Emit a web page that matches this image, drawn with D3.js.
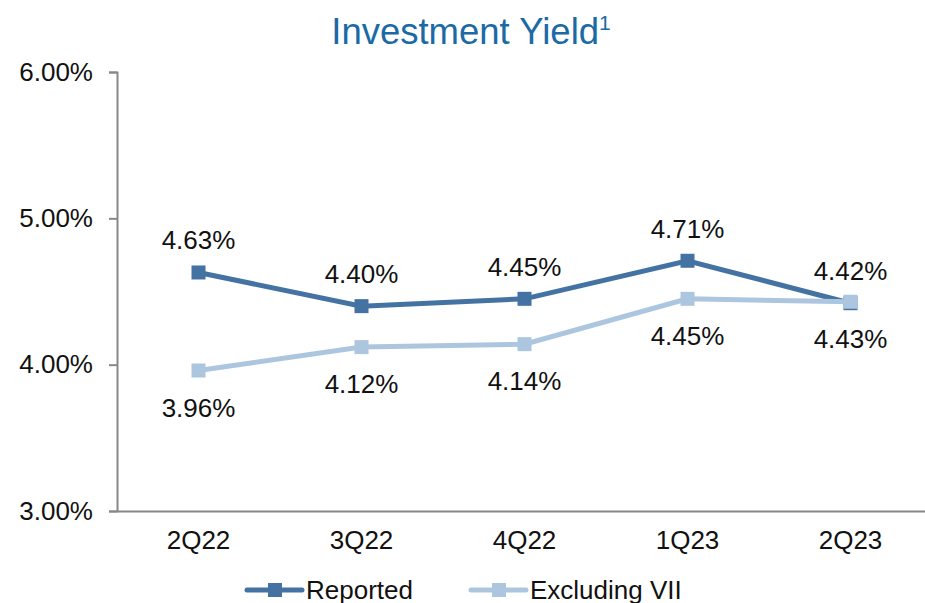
<!DOCTYPE html>
<html><head><meta charset="utf-8">
<script src="https://cdn.jsdelivr.net/npm/d3@7"></script>
<style>body{margin:0;background:#fff}svg{display:block;font-family:Arial,"Liberation Sans",sans-serif}</style>
</head><body>
<svg id="c" width="925" height="603"></svg>
<script>
const categories = ["2Q22","3Q22","4Q22","1Q23","2Q23"];
const reported = [4.63, 4.40, 4.45, 4.71, 4.42];
const excludingVII = [3.96, 4.12, 4.14, 4.45, 4.43];
const yTicks = [3, 4, 5, 6];
const seriesNames = ["Reported", "Excluding VII"];

const svg = d3.select("#c");
const dark = "#4472a2", light = "#adc6e0";
const fs = 26;
const x = d3.scaleBand().domain(categories).range([117, 932]);
const y = d3.scaleLinear().domain([3, 6]).range([511, 72]);

// title
const t = svg.append("text").attr("x", 471).attr("y", 44).attr("text-anchor", "middle")
  .attr("fill", "#1b6aa5").attr("font-size", 36.5);
t.append("tspan").text("Investment Yield");
t.append("tspan").attr("font-size", 21).attr("dy", -14).text("1");

// y axis
const ya = svg.append("g").attr("transform", "translate(117,0)")
  .call(d3.axisLeft(y).tickValues(yTicks).tickSize(8).tickPadding(16).tickFormat(d => d.toFixed(2) + "%"));
ya.select(".domain").attr("stroke", "#888").attr("stroke-width", 2);
ya.selectAll(".tick line").attr("stroke", "#888").attr("stroke-width", 2);
ya.selectAll(".tick text").attr("font-size", fs).attr("fill", "#111").attr("font-family", "Arial, 'Liberation Sans', sans-serif");

// x axis
const xa = svg.append("g").attr("transform", "translate(0,511)")
  .call(d3.axisBottom(x).tickSize(0).tickPadding(20));
xa.select(".domain").attr("stroke", "#888").attr("stroke-width", 2);
xa.selectAll(".tick text").attr("font-size", fs).attr("fill", "#111").attr("font-family", "Arial, 'Liberation Sans', sans-serif");

const cx = d => x(d) + x.bandwidth() / 2;
const line = d3.line().x((d, i) => cx(categories[i])).y(d => y(d));

function drawSeries(vals, color) {
  svg.append("path").datum(vals).attr("d", line).attr("fill", "none")
    .attr("stroke", color).attr("stroke-width", 5);
  svg.selectAll(null).data(vals).enter().append("rect")
    .attr("x", (d, i) => cx(categories[i]) - 7).attr("y", d => y(d) - 7)
    .attr("width", 14).attr("height", 14).attr("fill", color);
}
drawSeries(reported, dark);
drawSeries(excludingVII, light);

// labels
svg.selectAll(null).data(reported).enter().append("text")
  .attr("x", (d, i) => cx(categories[i])).attr("y", d => y(d) - 23)
  .attr("text-anchor", "middle").attr("font-size", fs).attr("fill", "#111")
  .text(d => d.toFixed(2) + "%");
svg.selectAll(null).data(excludingVII).enter().append("text")
  .attr("x", (d, i) => cx(categories[i])).attr("y", d => y(d) + 46)
  .attr("text-anchor", "middle").attr("font-size", fs).attr("fill", "#111")
  .text(d => d.toFixed(2) + "%");

// legend
const legendX = [247, 471];
[dark, light].forEach((c, i) => {
  const g = svg.append("g").attr("transform", `translate(${legendX[i]},590)`);
  g.append("line").attr("x1", 0).attr("x2", 55).attr("stroke", c).attr("stroke-width", 5).attr("stroke-linecap", "round");
  g.append("rect").attr("x", 21).attr("y", -7).attr("width", 14).attr("height", 14).attr("fill", c);
  g.append("text").attr("x", 59).attr("y", 9).attr("font-size", fs).attr("fill", "#111").text(seriesNames[i]);
});
</script>
</body></html>
